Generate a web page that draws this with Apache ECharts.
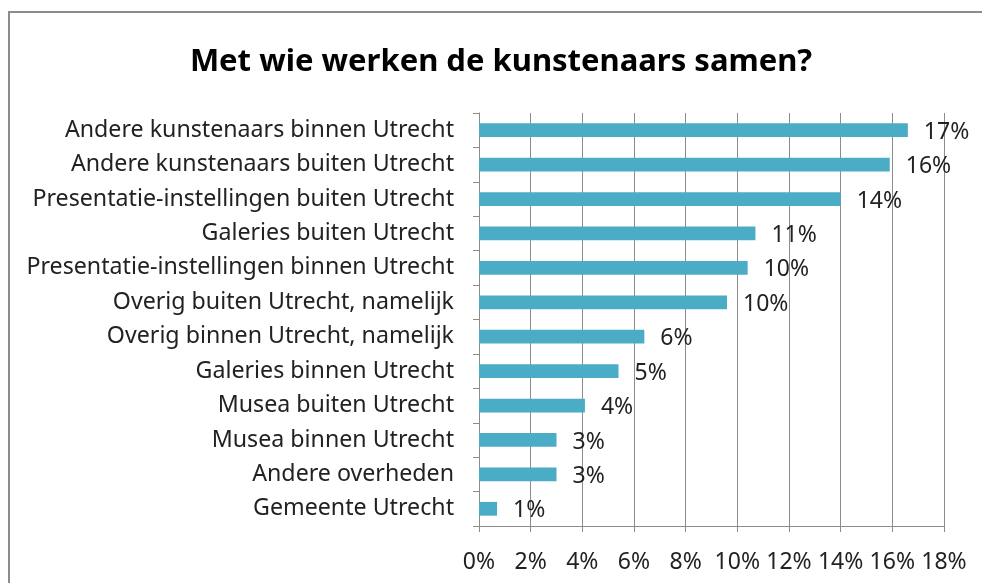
<!DOCTYPE html>
<html>
<head>
<meta charset="utf-8">
<title>Met wie werken de kunstenaars samen?</title>
<script src="https://cdn.jsdelivr.net/npm/echarts@6/dist/echarts.min.js"></script>
<style>
  html, body { margin: 0; padding: 0; background: #fff; }
  #chart { width: 982px; height: 583px; }
</style>
</head>
<body>
<div id="chart"></div>
<script>
// categories, top to bottom
var categories = [
  'Andere kunstenaars binnen Utrecht',
  'Andere kunstenaars buiten Utrecht',
  'Presentatie-instellingen buiten Utrecht',
  'Galeries buiten Utrecht',
  'Presentatie-instellingen binnen Utrecht',
  'Overig buiten Utrecht, namelijk',
  'Overig binnen Utrecht, namelijk',
  'Galeries binnen Utrecht',
  'Musea buiten Utrecht',
  'Musea binnen Utrecht',
  'Andere overheden',
  'Gemeente Utrecht'
];
// percentages
var values = [16.6, 15.9, 14.0, 10.7, 10.4, 9.6, 6.4, 5.4, 4.1, 3.0, 3.0, 0.7];
var xTicks = [0, 2, 4, 6, 8, 10, 12, 14, 16, 18];

var font = 'Noto Sans';
var chart = echarts.init(document.getElementById('chart'));

var option = {
  animation: false,
  title: {
    text: 'Met wie werken de kunstenaars samen?',
    left: 496,
    textAlign: 'center',
    top: 42,
    textStyle: { fontFamily: font, fontSize: 31, fontWeight: 'bold', color: '#000' }
  },
  graphic: [{
    type: 'rect',
    shape: { x: 9, y: 12, width: 1000, height: 600 },
    style: { fill: 'none', stroke: '#8c8c8c', lineWidth: 2 },
    silent: true
  }],
  grid: { left: 479, right: 38, top: 113, bottom: 57 },
  xAxis: {
    type: 'value',
    min: xTicks[0],
    max: xTicks[xTicks.length - 1],
    interval: 2,
    axisLine: { show: true, lineStyle: { color: '#8c8c8c', width: 1 } },
    axisTick: { show: true, length: 6, lineStyle: { color: '#8c8c8c' } },
    splitLine: { show: true, lineStyle: { color: '#8c8c8c', width: 1 } },
    axisLabel: {
      margin: 25,
      fontFamily: font,
      fontSize: 23,
      color: '#222',
      formatter: '{value}%'
    }
  },
  yAxis: {
    type: 'category',
    inverse: true,
    data: categories,
    axisLine: { show: true, lineStyle: { color: '#8c8c8c', width: 1 } },
    axisTick: { show: true, length: 6, alignWithLabel: false, lineStyle: { color: '#8c8c8c' } },
    axisLabel: { margin: 25, fontFamily: font, fontSize: 23.2, color: '#222' }
  },
  series: [{
    type: 'bar',
    data: values,
    barWidth: '40%',
    itemStyle: { color: '#4bacc6' },
    label: {
      show: true,
      position: 'right',
      distance: 16,
      offset: [0, 2],
      fontFamily: font,
      fontSize: 23,
      color: '#222',
      formatter: function (p) { return Math.round(p.value) + '%'; }
    }
  }]
};

chart.setOption(option);
</script>
</body>
</html>
